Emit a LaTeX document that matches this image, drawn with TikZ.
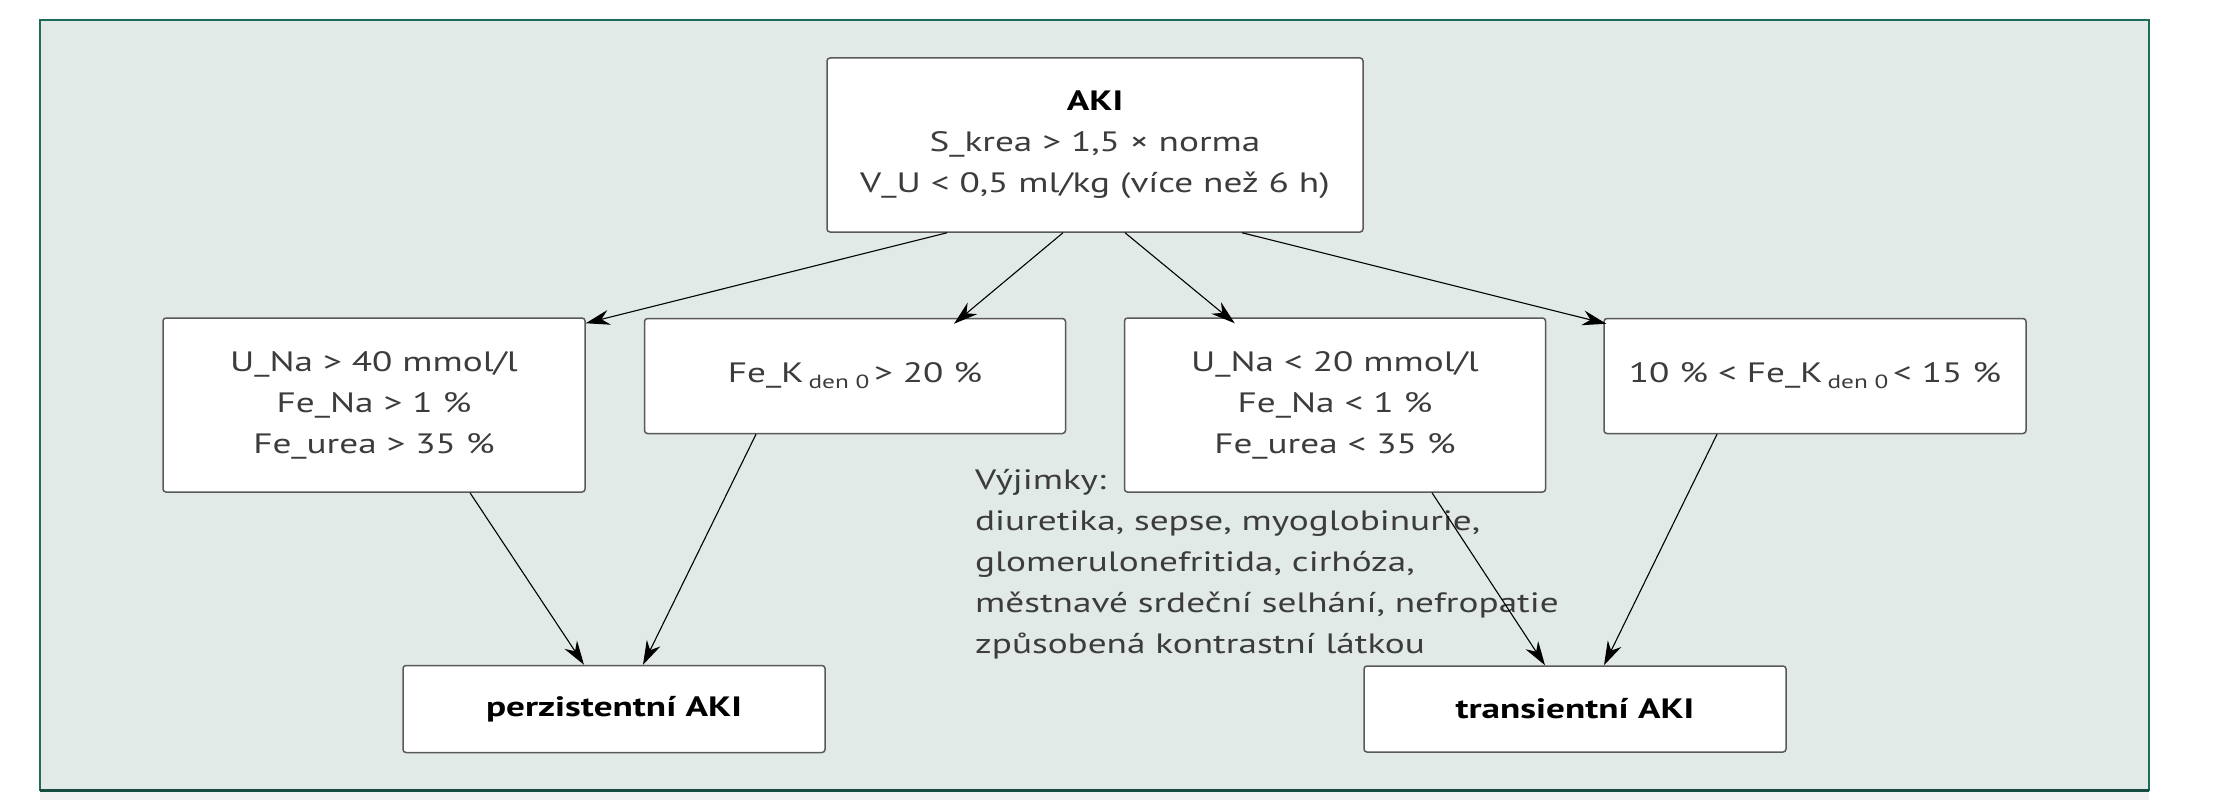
\documentclass[tikz,border=0pt]{standalone}
\usepackage{fontspec}
\usetikzlibrary{arrows.meta}
\setmainfont{PT Sans}[FakeStretch=1.33]
\definecolor{panelbg}{HTML}{E1EAE6}
\definecolor{panelline}{HTML}{1F6B5A}
\definecolor{txtgray}{HTML}{3C3C3C}
\tikzset{
  box/.style={draw=gray!70!black, fill=white, rounded corners=3pt, line width=1.5pt,
    align=center, inner sep=0pt, text=txtgray},
  arr/.style={-{Stealth[length=24pt,width=15pt]}, line width=1.1pt, black},
}
\newcommand{\dnull}{\,\raisebox{-6pt}{\fontsize{19}{19}\selectfont den 0}\,}
\begin{document}
\begin{tikzpicture}[x=1pt, y=-1pt, font=\fontsize{28}{41}\selectfont]
  \useasboundingbox (0,0) rectangle (2214,800);
  % panel
  \fill[gray!12] (40,788) rectangle (2149,800);
  \draw[panelline, fill=panelbg, line width=2pt] (40,20) rectangle (2149,790);
  \draw[panelline!70!black, line width=3pt] (40,790) -- (2149,790);

  % top node
  \node[box, minimum width=536pt, minimum height=174pt] (aki) at (1095,145)
    {{\color{black}\bfseries AKI}\\ S\_krea > 1,5 × norma\\ V\_U < 0,5 ml/kg (více než 6 h)};

  % criteria
  \node[box, minimum width=422pt, minimum height=174pt] (una) at (374,405)
    {U\_Na > 40 mmol/l\\ Fe\_Na > 1 \%\\ Fe\_urea > 35 \%};
  \node[box, minimum width=421pt, minimum height=115pt] (fek) at (855,376)
    {Fe\_K\dnull> 20 \%};
  \node[box, minimum width=421pt, minimum height=174pt] (unb) at (1335,405)
    {U\_Na < 20 mmol/l\\ Fe\_Na < 1 \%\\ Fe\_urea < 35 \%};
  \node[box, minimum width=422pt, minimum height=115pt] (fekb) at (1815,376)
    {10 \% < Fe\_K\dnull< 15 \%};

  % outcomes
  \node[box, minimum width=422pt, minimum height=87pt] (pers) at (614,709)
    {{\color{black}\bfseries perzistentní AKI}};
  \node[box, minimum width=422pt, minimum height=86pt] (trans) at (1575,709)
    {{\color{black}\bfseries transientní AKI}};

  % exceptions
  \node[anchor=north west, align=left, text=txtgray, inner sep=0pt] (exc) at (975,469)
    {Výjimky:\\ diuretika, sepse, myoglobinurie,\\ glomerulonefritida, cirhóza,\\
     městnavé srdeční selhání, nefropatie\\ způsobená kontrastní látkou};

  % arrows
  \draw[arr] ([xshift=-148pt]aki.south) -- ([yshift=-6pt]una.north east);
  \draw[arr] ([xshift=-32pt]aki.south) -- ([xshift=99pt, yshift=-6pt]fek.north);
  \draw[arr] ([xshift=30pt]aki.south) -- ([xshift=111pt, yshift=-6pt]unb.north west);
  \draw[arr] ([xshift=147pt]aki.south) -- ([xshift=3pt, yshift=-6pt]fekb.north west);

  \draw[arr] ([xshift=96pt]una.south) -- ([xshift=-30pt]pers.north);
  \draw[arr] ([xshift=-99pt]fek.south) -- ([xshift=29pt]pers.north);
  \draw[arr] ([xshift=97pt]unb.south) -- ([xshift=-30pt]trans.north);
  \draw[arr] ([xshift=-98pt]fekb.south) -- ([xshift=29pt]trans.north);
\end{tikzpicture}
\end{document}
